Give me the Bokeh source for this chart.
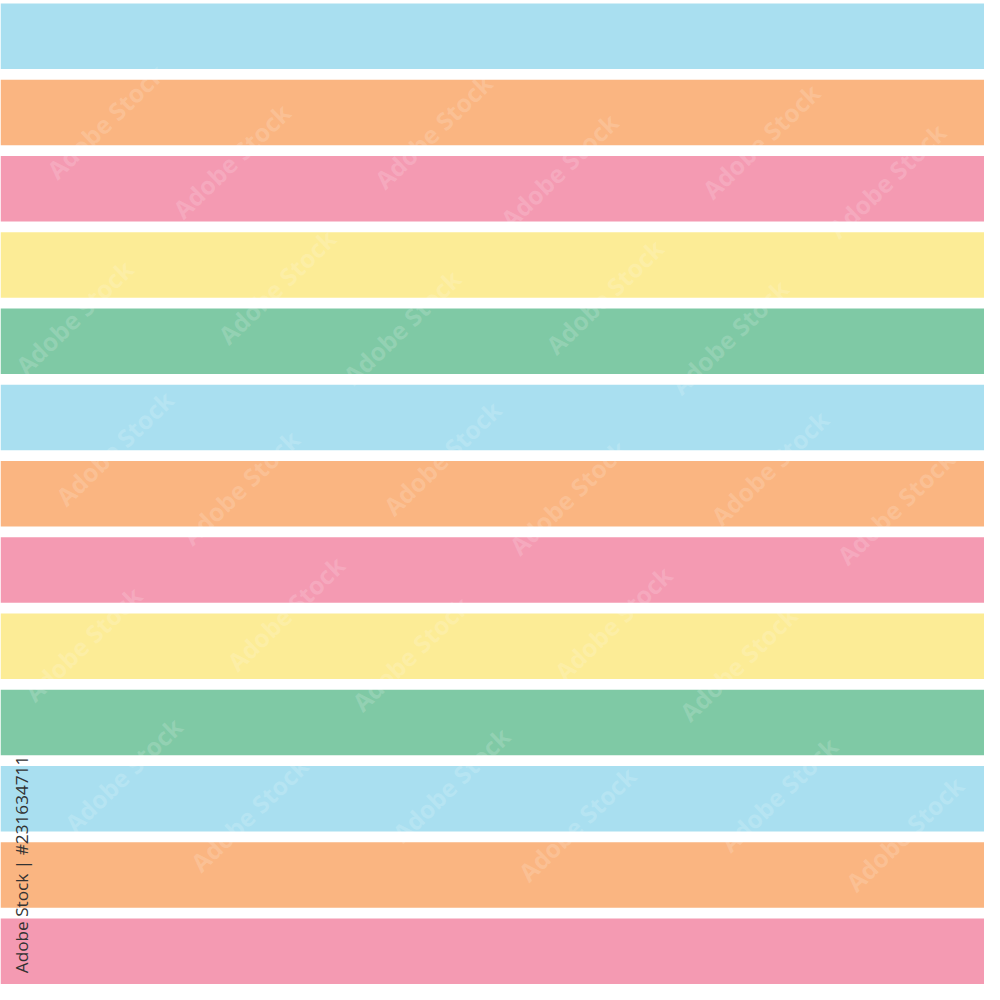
import math
from bokeh.plotting import figure
from bokeh.models import Range1d, ColumnDataSource
from bokeh.core.properties import value
from bokeh.embed import file_html
from bokeh.resources import INLINE

# ---- data ----
stripe_index = list(range(13))
palette = ["#A9DFF0", "#FAB581", "#F49AB2", "#FCEC96", "#7FC9A5"]
stripe_colors = [palette[i % 5] for i in stripe_index]
stripe_length = [1000] * 13

# watermark stamp pattern (pixel space of the 1000x1000 picture)
stamp_text = "Adobe Stock"
stamp_base_x = [107, 235, 75, 281]
stamp_base_y = [123, 163, 322, 291]
stamp_step_a = (333, 10)
stamp_step_b = (9, 332)

credit_text = "Adobe Stock | #231634711"

W = 984
scale = W / 1000.0

p = figure(width=W, height=W, output_backend="svg", toolbar_location=None,
           x_range=Range1d(0, 1000), y_range=Range1d(12.435, -0.468),
           min_border=0, background_fill_color="white",
           border_fill_color="white", outline_line_color=None)
p.axis.visible = False
p.grid.visible = False

p.extra_y_ranges = {"px": Range1d(1000, 0)}

src = ColumnDataSource(dict(y=stripe_index, right=stripe_length, color=stripe_colors))
p.hbar(y="y", left=0, right="right", height=0.858, fill_color="color",
       line_color=None, source=src)

# watermarks (only stamps that lie wholly inside the picture)
wx, wy = [], []
for i in range(-1, 4):
    for j in range(-1, 4):
        for bx, by in zip(stamp_base_x, stamp_base_y):
            x = bx + i * stamp_step_a[0] + j * stamp_step_b[0]
            y = by + i * stamp_step_a[1] + j * stamp_step_b[1]
            if 66 < x < 934 and 66 < y < 934:
                wx.append(x)
                wy.append(y)
wsrc = ColumnDataSource(dict(x=wx, y=wy, t=[stamp_text] * len(wx)))
p.text(x="x", y="y", text="t", source=wsrc, y_range_name="px",
       angle=math.radians(44), text_align="center", text_baseline="middle",
       text_font=value("Open Sans"), text_font_style="bold",
       text_font_size=f"{25*scale:.1f}px", text_color="white", text_alpha=0.16)

# credit line
p.text(x=[21.5], y=[878], text=[credit_text], y_range_name="px",
       angle=math.pi / 2, text_align="center", text_baseline="middle",
       text_font=value("Open Sans"), text_font_size=f"{17.5*scale:.1f}px",
       text_color="#333333")

open("out.html", "w").write(file_html(p, INLINE))
